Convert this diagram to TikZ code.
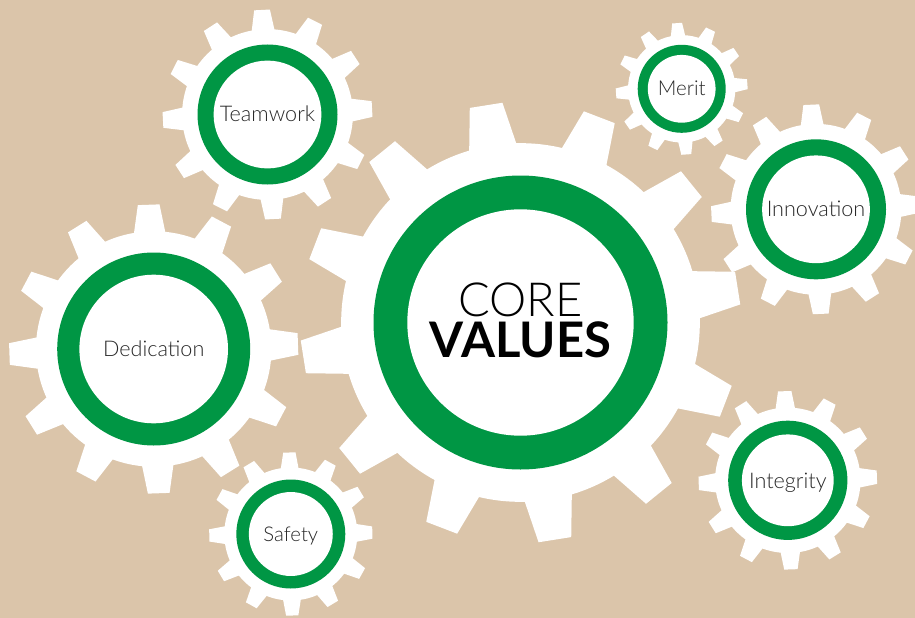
\documentclass[tikz,border=0pt]{standalone}
\usepackage{fontspec}
\setmainfont{Lato}
\IfFontExistsTF{Lato Light}{\newfontfamily\lightfont{Lato Light}}{\newfontfamily\lightfont{Lato}}
\definecolor{bgsand}{RGB}{219,197,170}
\definecolor{ringgreen}{RGB}{0,150,68}
\definecolor{lblgray}{RGB}{40,40,40}
\newcommand{\gearshape}[4]{% cx cy R offset
  \fill[white] (#1,#2) circle[radius={#3*1.22pt}];
  \foreach \k in {0,...,11}{
    \pgfmathsetmacro\ga{#4+30*\k}
    \fill[white] ({#1+1.17*#3*cos(\ga-8.4)},{#2-1.17*#3*sin(\ga-8.4)})
      -- ({#1+1.5*#3*cos(\ga-4.3)},{#2-1.5*#3*sin(\ga-4.3)})
      -- ({#1+1.5*#3*cos(\ga+4.3)},{#2-1.5*#3*sin(\ga+4.3)})
      -- ({#1+1.17*#3*cos(\ga+8.4)},{#2-1.17*#3*sin(\ga+8.4)}) -- cycle;
  }
  \fill[ringgreen] (#1,#2) circle[radius={#3*1pt}];
  \fill[white] (#1,#2) circle[radius={#3*0.77pt}];
}
\begin{document}
\begin{tikzpicture}[x=1pt,y=-1pt,
  lbl/.style={anchor=base, inner sep=0pt, text=lblgray, font=\lightfont\fontsize{#1}{24}\selectfont},
  lbl/.default=21.6]
\useasboundingbox (0,0) rectangle (915,618);
\fill[bgsand] (0,0) rectangle (915,618);
\gearshape{520.5}{322.5}{147}{9}
\gearshape{267.5}{114.5}{70}{3}
\gearshape{153.7}{349}{96.5}{2}
\gearshape{290.8}{534}{54.5}{1}
\gearshape{681.7}{88.8}{44}{4}
\gearshape{816}{209.3}{70}{2.6}
\gearshape{787.8}{480.3}{59.6}{2}
\node[anchor=north, inner sep=0pt, align=center, font=\fontsize{49}{41}\selectfont] (corevalues) at (520.5,283)
  {{\lightfont\fontsize{47}{41}\selectfont CORE}\\{\bfseries VALUES}};
\node[lbl] (teamwork) at (267.5,121.8) {Teamwork};
\node[lbl] (dedication) at (153.7,356.5) {Dedication};
\node[lbl=20.3] (safety) at (290.8,541.5) {Safety};
\node[lbl=20.5] (merit) at (681.7,95.5) {Merit};
\node[lbl] (innovation) at (816,216.3) {Innovation};
\node[lbl] (integrity) at (787.8,488) {Integrity};
\end{tikzpicture}
\end{document}
